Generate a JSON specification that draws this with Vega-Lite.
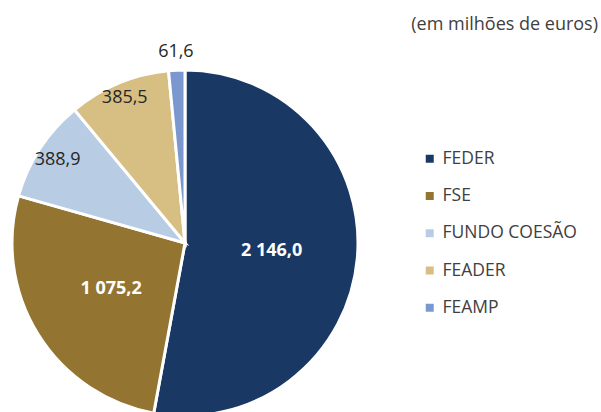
{
  "$schema": "https://vega.github.io/schema/vega-lite/v6.json",
  "width": 370,
  "height": 338,
  "autosize": {"type": "none"},
  "padding": {"left": 0, "top": 74, "right": 231, "bottom": 0},
  "background": "white",
  "config": {
    "view": {"stroke": null},
    "font": "Open Sans",
    "locale": {"number": {"decimal": ",", "thousands": " ", "grouping": [3], "currency": ["", " €"]}}
  },
  "title": {
    "text": "(em milhões de euros)",
    "orient": "top",
    "anchor": "end",
    "frame": "group",
    "dx": 228,
    "offset": 9,
    "font": "Open Sans",
    "fontSize": 18,
    "fontWeight": "normal",
    "color": "#404040"
  },
  "data": {
    "values": [
      {"fundo": "FEDER", "valor": 2146.0, "ordem": 1},
      {"fundo": "FSE", "valor": 1075.2, "ordem": 2},
      {"fundo": "FUNDO COESÃO", "valor": 388.9, "ordem": 3},
      {"fundo": "FEADER", "valor": 385.5, "ordem": 4},
      {"fundo": "FEAMP", "valor": 61.6, "ordem": 5}
    ]
  },
  "encoding": {
    "theta": {"field": "valor", "type": "quantitative", "stack": true},
    "order": {"field": "ordem", "type": "quantitative", "sort": "ascending"}
  },
  "layer": [
    {
      "mark": {"type": "arc", "outerRadius": 173, "stroke": "white", "strokeWidth": 3},
      "encoding": {
        "color": {
          "field": "fundo",
          "type": "nominal",
          "sort": ["FEDER", "FSE", "FUNDO COESÃO", "FEADER", "FEAMP"],
          "scale": {
            "domain": ["FEDER", "FSE", "FUNDO COESÃO", "FEADER", "FEAMP"],
            "range": ["#1A3864", "#937431", "#B8CCE4", "#D7BE82", "#7B97CF"]
          },
          "legend": {
            "title": null,
            "orient": "none",
            "legendX": 421,
            "legendY": 76,
            "symbolType": "square",
            "symbolSize": 64,
            "symbolStrokeWidth": 0,
            "labelFont": "Open Sans",
            "labelFontSize": 17.5,
            "labelColor": "#404040",
            "labelOffset": 4,
            "rowPadding": 18.25
          }
        }
      }
    },
    {
      "mark": {"type": "text", "radius": 87, "fontSize": 18, "fontWeight": "bold", "color": "white", "align": "center", "baseline": "middle"},
      "encoding": {
        "text": {"condition": {"test": "datum.ordem <= 2", "field": "valor", "type": "quantitative", "format": ",.1f"}, "value": ""}
      }
    },
    {
      "mark": {"type": "text", "radius": 152, "fontSize": 18, "color": "#262626", "align": "center", "baseline": "middle"},
      "encoding": {
        "text": {"condition": {"test": "datum.ordem == 3", "field": "valor", "type": "quantitative", "format": ",.1f"}, "value": ""}
      }
    },
    {
      "mark": {"type": "text", "radius": 157, "fontSize": 18, "color": "#262626", "align": "center", "baseline": "middle"},
      "encoding": {
        "text": {"condition": {"test": "datum.ordem == 4", "field": "valor", "type": "quantitative", "format": ",.1f"}, "value": ""}
      }
    },
    {
      "mark": {"type": "text", "radius": 191, "fontSize": 18, "color": "#262626", "align": "center", "baseline": "middle"},
      "encoding": {
        "text": {"condition": {"test": "datum.ordem == 5", "field": "valor", "type": "quantitative", "format": ",.1f"}, "value": ""}
      }
    }
  ]
}
